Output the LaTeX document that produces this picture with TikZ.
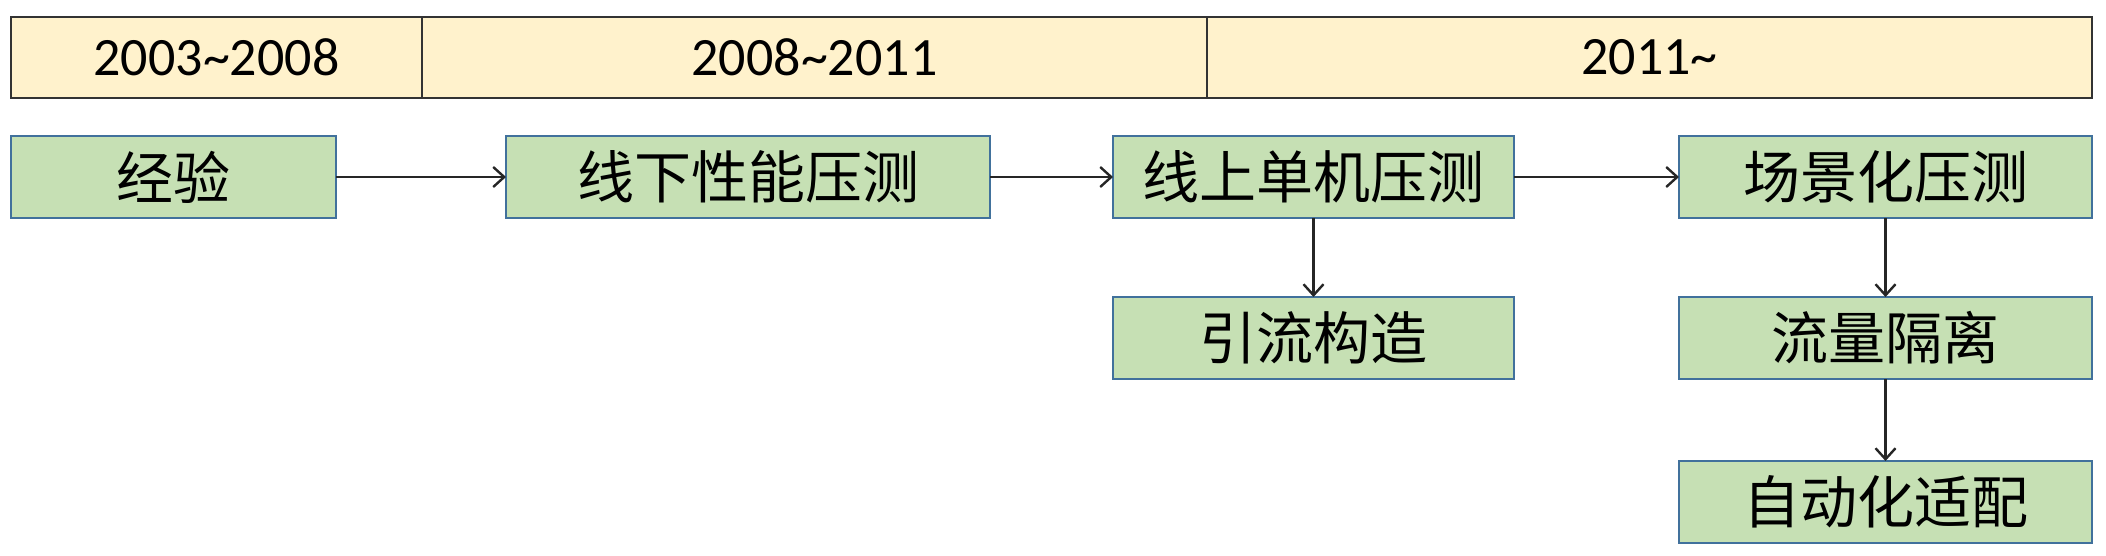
\documentclass[tikz,border=0pt]{standalone}
\usepackage{fontspec}
\newfontfamily\cjk{Noto Sans CJK SC}
\newfontfamily\numfont{Carlito}
\usetikzlibrary{arrows.meta}
\definecolor{hdrfill}{HTML}{FFF2CC}
\definecolor{boxfill}{HTML}{C6E0B4}
\definecolor{boxline}{HTML}{41719C}
\tikzset{
  hdr/.style={draw=black!80, line width=1.5pt, fill=hdrfill, inner sep=0pt, outer sep=0pt,
    minimum height=81pt, font=\numfont\fontsize{54}{60}\selectfont, anchor=center},
  stage/.style={draw=boxline, line width=2.2pt, fill=boxfill, inner sep=0pt, outer sep=0pt,
    minimum height=82pt, font=\cjk\fontsize{57}{62}\selectfont, anchor=center},
  link/.style={draw=black!85, line width=2.4pt, -{Straight Barb[length=11pt,width=20pt,line width=2.4pt]}}
}
\begin{document}
\begin{tikzpicture}[x=1pt,y=-1pt]
\useasboundingbox (0,0) rectangle (2106,556);
% header
\node[hdr, minimum width=411pt] (h1) at (216.5,57.5) {2003\textasciitilde2008};
\node[hdr, minimum width=785pt] (h2) at (814.5,57.5) {2008\textasciitilde2011};
\node[hdr, minimum width=885pt] (h3) at (1649.5,57.5) {2011\textasciitilde};
% row 1
\node[stage, minimum width=325pt] (a) at (173.5,177) {经验};
\node[stage, minimum width=484pt] (b) at (748,177) {线下性能压测};
\node[stage, minimum width=401pt] (c) at (1313.5,177) {线上单机压测};
\node[stage, minimum width=413pt] (d) at (1885.5,177) {场景化压测};
% row 2
\node[stage, minimum width=401pt] (c2) at (1313.5,338) {引流构造};
\node[stage, minimum width=413pt] (d2) at (1885.5,338) {流量隔离};
% row 3
\node[stage, minimum width=413pt] (d3) at (1885.5,502) {自动化适配};
% connectors
\draw[link] (a.east) -- (b.west);
\draw[link] (b.east) -- (c.west);
\draw[link] (c.east) -- (d.west);
\draw[link] (c.south) -- (c2.north);
\draw[link] (d.south) -- (d2.north);
\draw[link] (d2.south) -- (d3.north);
\end{tikzpicture}
\end{document}
